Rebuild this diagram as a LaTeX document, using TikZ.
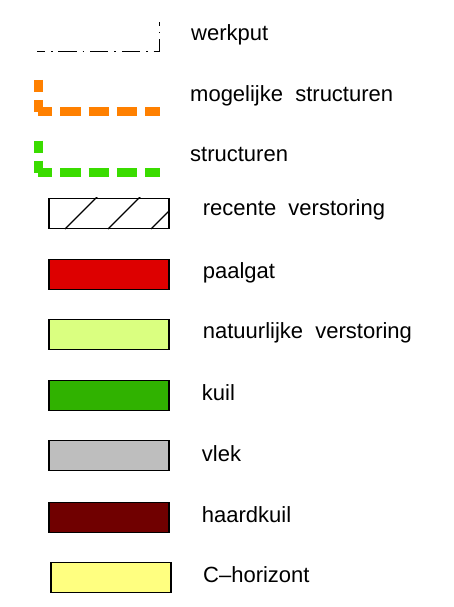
\documentclass[tikz,border=0pt]{standalone}
\usepackage{fontspec}
\setmainfont{Liberation Sans}
\definecolor{cadorange}{RGB}{255,128,0}
\definecolor{cadgreen}{RGB}{58,220,0}
\definecolor{paalred}{RGB}{221,0,0}
\definecolor{natyellow}{RGB}{218,255,128}
\definecolor{kuilgreen}{RGB}{48,178,0}
\definecolor{vlekgray}{RGB}{190,190,190}
\definecolor{haarddark}{RGB}{112,0,0}
\definecolor{cyellow}{RGB}{255,255,128}
\begin{document}
\begin{tikzpicture}[x=1pt,y=-1pt,
  legbox/.style={draw=black, line width=1.8pt, minimum width=120pt, minimum height=30pt, inner sep=0pt},
  leglabel/.style={anchor=base west, inner sep=0pt, font=\fontsize{22}{24}\selectfont},
  thickdash/.style={line width=8.5pt, line cap=butt},
]
\useasboundingbox[fill=white] (0,0) rectangle (453,607);

% werkput line
\coordinate (w1) at (37,51.7);
\coordinate (w2) at (159.3,51.7);
\coordinate (w3) at (159.3,21.7);
\draw[line width=1.4pt, dash pattern=on 18.3pt off 6pt on 1.6pt off 5.8pt, dash phase=10.3pt] (w1) -- (w2) -- (w3);

% mogelijke structuren (orange)
\coordinate (o1) at (38.5,80);
\coordinate (o2) at (38.5,113);
\coordinate (o3) at (38.3,111.5);
\coordinate (o4) at (160,111.5);
\draw[thickdash, cadorange, dash pattern=on 12pt off 8pt] (o1) -- (o2);
\draw[thickdash, cadorange, dash pattern=on 20.3pt off 8pt, dash phase=6.3pt] (o3) -- (o4);

% structuren (green)
\coordinate (g1) at (38.5,140.7);
\coordinate (g2) at (38.5,174);
\coordinate (g3) at (38.3,172.5);
\coordinate (g4) at (160,172.5);
\draw[thickdash, cadgreen, dash pattern=on 12pt off 8pt] (g1) -- (g2);
\draw[thickdash, cadgreen, dash pattern=on 20.3pt off 8pt, dash phase=6.3pt] (g3) -- (g4);

% boxes
\node[legbox, fill=white] (rv) at (109,213.5) {};
\begin{scope}
  \clip (rv.south west) rectangle (rv.north east);
  \foreach \b in {65,108,151} {
    \draw[line width=1.3pt] (\b,229) -- ++(40,-40);
  }
\end{scope}
\node[legbox, fill=none] at (109,213.5) {};
\node[legbox, fill=paalred] (pg) at (109,274.5) {};
\node[legbox, fill=natyellow] (nv) at (109,334.5) {};
\node[legbox, fill=kuilgreen] (ku) at (109,395.5) {};
\node[legbox, fill=vlekgray] (vl) at (109,455.5) {};
\node[legbox, fill=haarddark] (hk) at (109,517.5) {};
\node[legbox, fill=cyellow] (ch) at (111,577.5) {};

% labels
\node[leglabel] (t1) at (191,40.7) {werkput};
\node[leglabel] (t2) at (190,101.7) {mogelijke\ \ structuren};
\node[leglabel] (t3) at (190,161.7) {structuren};
\node[leglabel] (t4) at (202.7,215) {recente\ \ verstoring};
\node[leglabel] (t5) at (202.7,278) {paalgat};
\node[leglabel] (t6) at (202.7,338) {natuurlijke\ \ verstoring};
\node[leglabel] (t7) at (201.7,400.7) {kuil};
\node[leglabel] (t8) at (201.7,461) {vlek};
\node[leglabel] (t9) at (201.7,522.7) {haardkuil};
\node[leglabel] (t10) at (203,582.7) {C--horizont};
\end{tikzpicture}
\end{document}
